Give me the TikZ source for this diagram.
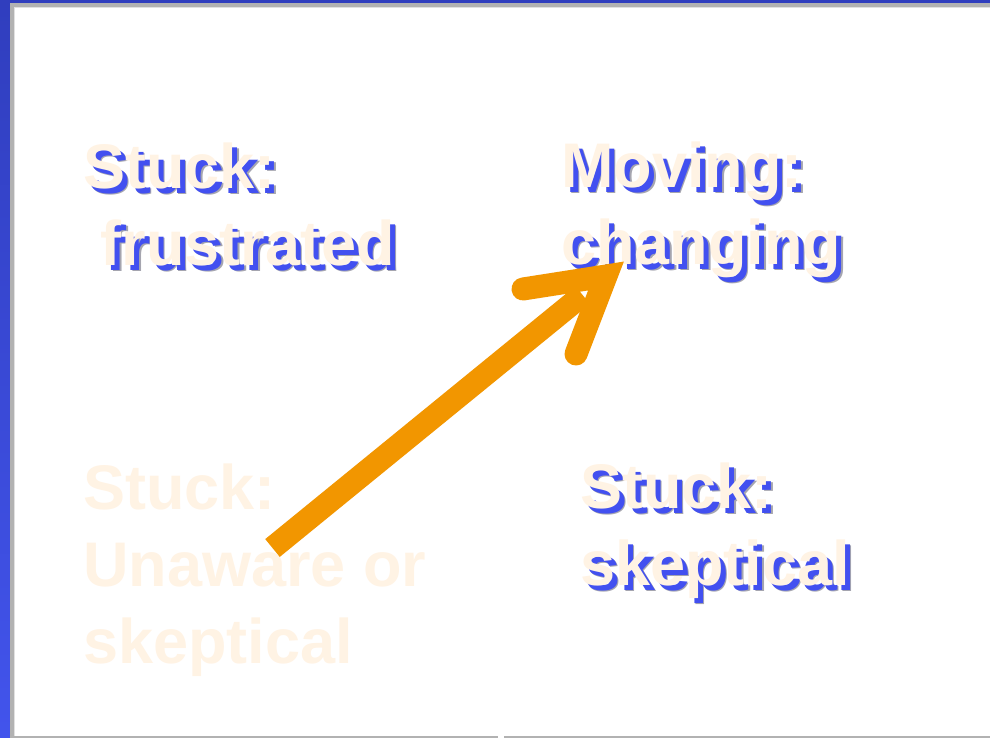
\documentclass[tikz,border=0pt]{standalone}
\usepackage{fontspec}
\setmainfont{Liberation Sans}
\usetikzlibrary{calc}
\definecolor{frameTop}{RGB}{48,62,190}
\definecolor{frameBot}{RGB}{66,84,236}
\definecolor{frameGray}{RGB}{178,178,178}
\definecolor{frameLight}{RGB}{225,225,225}
\definecolor{txtBlue}{RGB}{66,80,240}
\definecolor{txtCream}{RGB}{255,243,228}
\definecolor{txtShadow}{RGB}{165,165,175}
\definecolor{arrowOrange}{RGB}{242,150,0}
\tikzset{
  lbl/.style={anchor=base west, inner sep=0pt, align=left,
    font=\fontsize{63}{77}\selectfont\bfseries},
  lblshadow/.style={lbl, text=txtShadow},
  lblblue/.style={lbl, text=txtBlue},
  lblcream/.style={lbl, text=txtCream},
  arrowline/.style={draw=arrowOrange, line width=23pt},
}
% #1,#2: position of the baseline of the LAST line
\newcommand{\tripletext}[4]{%
  \node[lblshadow] (#3s) at (#1+6.5,#2+6.5) {#4};
  \node[lblblue] (#3b) at (#1+5,#2+5) {#4};
  \node[lblcream] (#3) at (#1,#2) {#4};
}
\begin{document}
\begin{tikzpicture}[x=1pt,y=-1pt]
\useasboundingbox (0,0) rectangle (990,738);
\fill[white] (0,0) rectangle (990,738);
% frame
\fill[frameTop] (0,0) rectangle (990,3);
\fill[frameGray] (10,3) rectangle (990,7);
\fill[frameLight] (14,7) rectangle (990,8);
\shade[top color=frameTop, bottom color=frameBot] (0,0) rectangle (10,738);
\fill[frameGray] (10,3) rectangle (14,738);
\fill[frameLight] (14,7) rectangle (15,738);
\fill[frameGray] (14,735.5) rectangle (498,738);
\fill[frameGray] (504,735.5) rectangle (990,738);
% faded quadrant label
\node[lblcream] (bl) at (83,663) {Stuck:\\Unaware or\\skeptical};
% shadowed labels
\tripletext{83}{265}{tl}{Stuck:\\\ frustrated}
\tripletext{561}{264}{tr}{Moving:\\changing}
\tripletext{580}{585}{br}{Stuck:\\skeptical}
% arrow
\coordinate (tail) at (272.5,548);
\coordinate (tip) at (606,276);
\coordinate (barbL) at (523,289);
\coordinate (barbR) at (576,354);
\draw[arrowline, line cap=butt] (tail) -- ($(tail)!0.93!(tip)$);
\draw[arrowline, line cap=round, line join=miter] (barbL) -- (tip) -- (barbR);
\end{tikzpicture}
\end{document}
